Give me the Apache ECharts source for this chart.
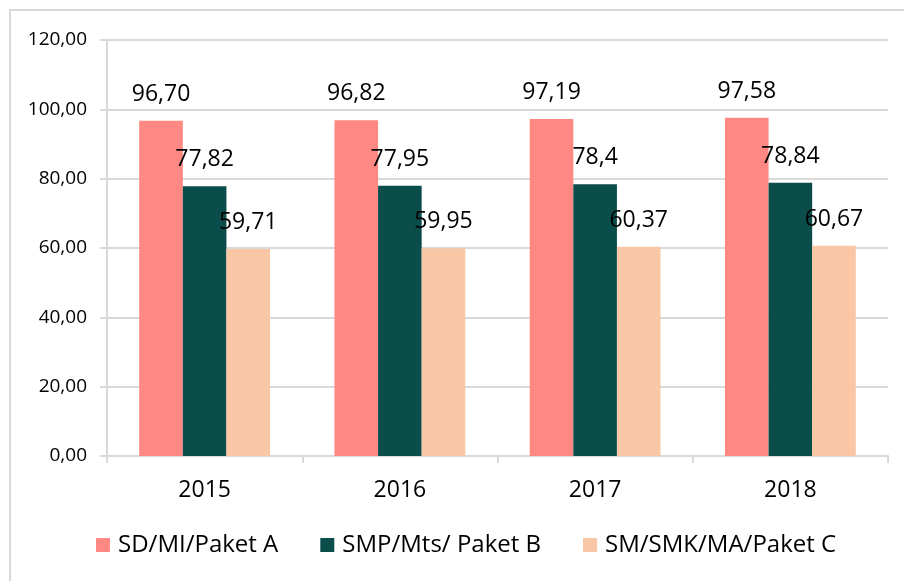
<!DOCTYPE html>
<html>
<head>
<meta charset="utf-8">
<script src="https://cdn.jsdelivr.net/npm/echarts@6/dist/echarts.min.js"></script>
<style>
  html, body { margin: 0; padding: 0; background: #fff; }
  #chart { width: 904px; height: 581px; }
</style>
</head>
<body>
<div id="chart"></div>
<script>
// data
const years = ['2015', '2016', '2017', '2018'];
const seriesNames = ['SD/MI/Paket A', 'SMP/Mts/ Paket B', 'SM/SMK/MA/Paket C'];
const paketA = [96.70, 96.82, 97.19, 97.58];
const paketB = [77.82, 77.95, 78.4, 78.84];
const paketC = [59.71, 59.95, 60.37, 60.67];
const labelsA = ['96,70', '96,82', '97,19', '97,58'];
const labelsB = ['77,82', '77,95', '78,4', '78,84'];
const labelsC = ['59,71', '59,95', '60,37', '60,67'];
const colors = ['#FF8882', '#0B4D4A', '#F9C6A6'];

const font = '"Open Sans", sans-serif';
const chart = echarts.init(document.getElementById('chart'));

const makeSeries = (name, data, labels, color) => ({
  name: name,
  type: 'bar',
  data: data,
  barGap: '0%',
  barCategoryGap: '33%',
  itemStyle: { color: color },
  label: {
    show: true,
    position: 'top',
    distance: 15,
    fontFamily: font,
    fontSize: 23,
    color: '#000',
    formatter: p => labels[p.dataIndex]
  }
});

chart.setOption({
  animation: false,
  graphic: [{
    type: 'rect',
    shape: { x: 10, y: 10, width: 1000, height: 1000 },
    style: { fill: 'none', stroke: '#D9D9D9', lineWidth: 2 }
  }],
  grid: { left: 107, right: 16, top: 40, bottom: 125 },
  legend: {
    bottom: 19,
    left: 91,
    itemWidth: 14,
    itemHeight: 14,
    itemGap: 42,
    icon: 'rect',
    textStyle: { fontFamily: font, fontSize: 24, color: '#000', padding: [0, 0, 0, 3] },
    data: seriesNames
  },
  xAxis: {
    type: 'category',
    data: years,
    axisLine: { lineStyle: { color: '#D9D9D9', width: 2 } },
    axisTick: { show: true, length: 7, lineStyle: { color: '#D9D9D9', width: 2 } },
    axisLabel: { fontFamily: font, fontSize: 23, color: '#000', margin: 23 }
  },
  yAxis: {
    type: 'value',
    min: 0,
    max: 120,
    interval: 20,
    axisLine: { show: true, lineStyle: { color: '#D9D9D9', width: 2 } },
    axisTick: { show: true, length: 7, lineStyle: { color: '#D9D9D9', width: 2 } },
    splitLine: { lineStyle: { color: '#D9D9D9', width: 2 } },
    axisLabel: {
      fontFamily: font,
      fontSize: 19,
      color: '#000',
      margin: 20,
      formatter: v => v.toFixed(2).replace('.', ',')
    }
  },
  series: [
    makeSeries(seriesNames[0], paketA, labelsA, colors[0]),
    makeSeries(seriesNames[1], paketB, labelsB, colors[1]),
    makeSeries(seriesNames[2], paketC, labelsC, colors[2])
  ]
});
</script>
</body>
</html>
